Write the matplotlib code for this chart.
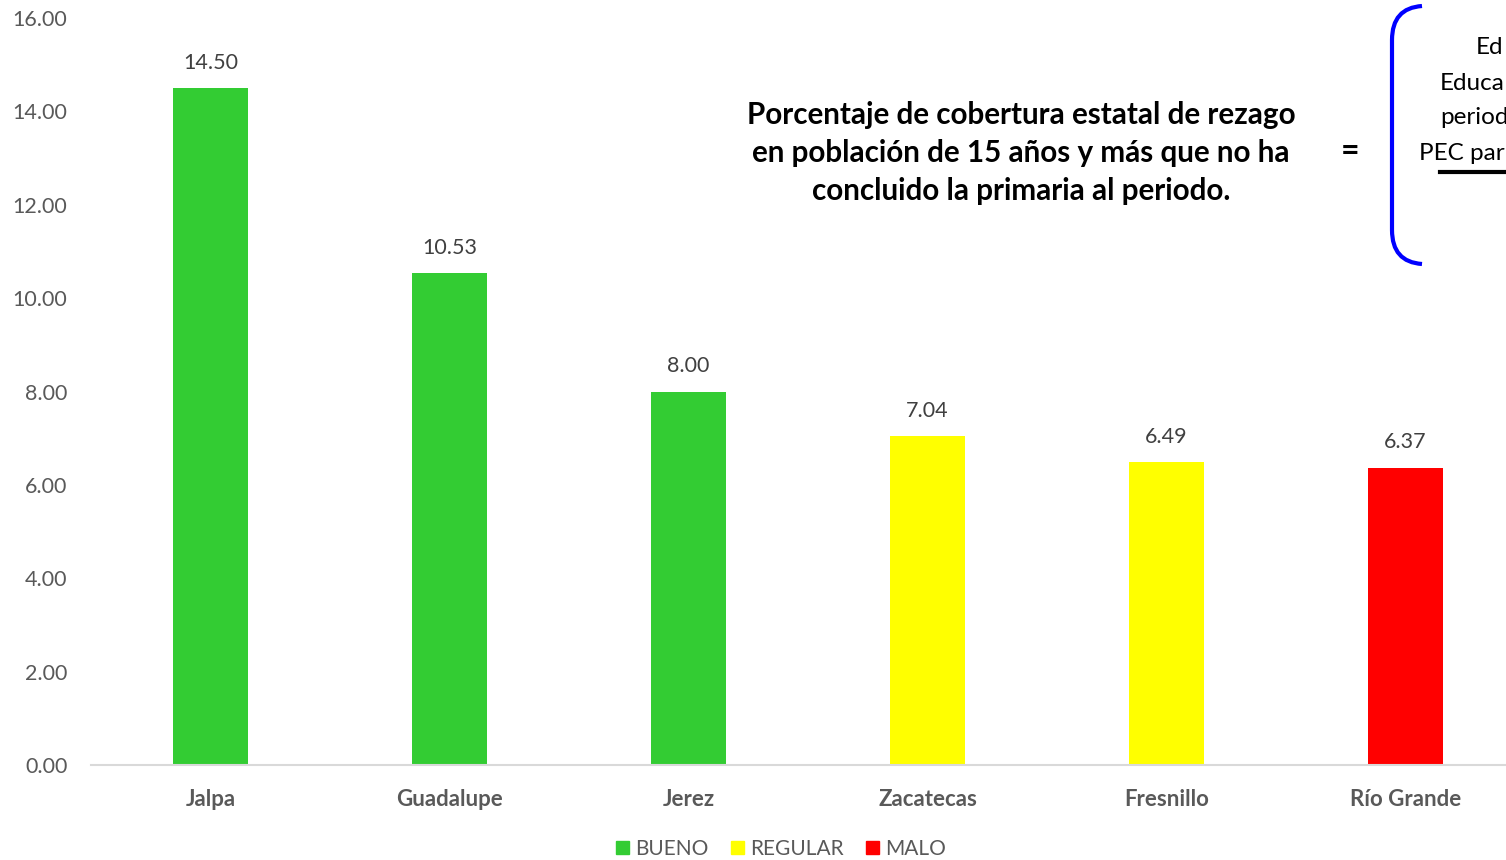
import matplotlib
matplotlib.use("Agg")
import matplotlib.pyplot as plt
from matplotlib.patches import Patch, PathPatch
from matplotlib.path import Path

categories = ["Jalpa", "Guadalupe", "Jerez", "Zacatecas", "Fresnillo", "Río Grande"]
values = [14.50, 10.53, 8.00, 7.04, 6.49, 6.37]
status = ["BUENO", "BUENO", "BUENO", "REGULAR", "REGULAR", "MALO"]
status_colors = {"BUENO": "#33CC33", "REGULAR": "#FFFF00", "MALO": "#FF0000"}
yticks = [0, 2, 4, 6, 8, 10, 12, 14, 16]
title_lines = ["Porcentaje de cobertura estatal de rezago",
               "en población de 15 años y más que no ha",
               "concluido la primaria al periodo."]
formula_lines = ["Ed", "Educa", "period", "PEC par"]

plt.rcParams['font.family'] = ['Lato', 'DejaVu Sans']

W, H = 1506, 860
fig = plt.figure(figsize=(W / 100, H / 100), dpi=100)
ax = fig.add_axes([91 / W, 1 - 765 / H, (6 * 239) / W, (765 - 18) / H])

x = list(range(len(categories)))
ax.bar(x, values, width=0.314, color=[status_colors[s] for s in status], zorder=2)
for xi, v in zip(x, values):
    ax.annotate(f"{v:.2f}", (xi, v), xytext=(0, 11), textcoords="offset points",
                ha="center", va="bottom", fontsize=15.5, color="#404040")

ax.set_xlim(-0.5, len(categories) - 0.5)
ax.set_ylim(0, 16)
ax.set_yticks(yticks)
ax.set_yticklabels([f"{t:.2f}" for t in yticks], fontsize=15.5, color="#595959")
ax.set_xticks(x)
ax.set_xticklabels(categories, fontsize=16, fontweight="bold", color="#595959")
ax.tick_params(axis="both", length=0)
ax.tick_params(axis="y", pad=17)
ax.tick_params(axis="x", pad=17)
for s in ["top", "right", "left"]:
    ax.spines[s].set_visible(False)
ax.spines["bottom"].set_color("#D9D9D9")
ax.spines["bottom"].set_linewidth(1.5)

handles = [Patch(color=status_colors[k]) for k in ["BUENO", "REGULAR", "MALO"]]
fig.legend(handles, ["BUENO", "REGULAR", "MALO"], loc="center",
           bbox_to_anchor=(781 / W, 1 - 849 / H), ncol=3, frameon=False,
           fontsize=15, labelcolor="#595959", handlelength=0.6, handleheight=0.6,
           handletextpad=0.3, columnspacing=1.1)

# Title
fig.text(1021 / W, 1 - 153 / H, "\n".join(title_lines), ha="center", va="center",
         fontsize=21.3, fontweight="bold", color="black", linespacing=1.45)
fig.text(1350 / W, 1 - 152 / H, "=", ha="center", va="center",
         fontsize=23, fontweight="bold", color="black")

# Blue bracket
def fp(px, py):
    return (px / W, 1 - py / H)
verts = [fp(1422, 6), fp(1392, 8), fp(1392, 40), fp(1392, 230),
         fp(1392, 262), fp(1422, 264)]
codes = [Path.MOVETO, Path.CURVE3, Path.CURVE3, Path.LINETO, Path.CURVE3, Path.CURVE3]
fig.add_artist(PathPatch(Path(verts, codes), transform=fig.transFigure,
                         fill=False, edgecolor="#0000FF", linewidth=3))

# Cut-off formula text
starts = [1476, 1440, 1440, 1419]
ys = [48, 83, 118, 153]
for t, sx, sy in zip(formula_lines, starts, ys):
    fig.text(sx / W, 1 - sy / H, t, ha="left", va="center", fontsize=17.5, color="black")
fig.add_artist(plt.Line2D([1440 / W, 1.0], [1 - 172 / H, 1 - 172 / H],
                          transform=fig.transFigure, color="black", linewidth=3))

fig.savefig("out.png", dpi=100)
